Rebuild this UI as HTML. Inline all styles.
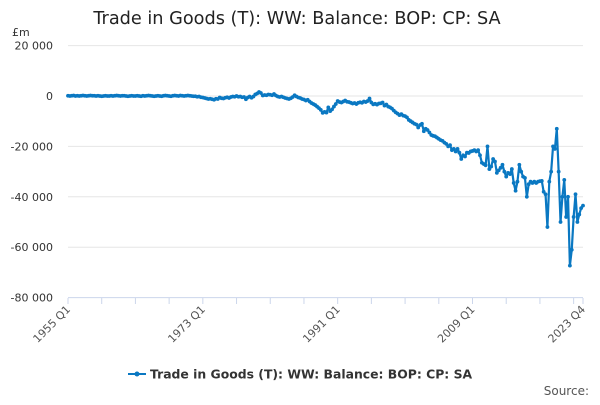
<!DOCTYPE html>
<html><head><meta charset="utf-8"><style>
body{margin:0;background:#fff;font-family:"Liberation Sans","DejaVu Sans",sans-serif}
svg text{font-family:"DejaVu Sans","Liberation Sans",sans-serif}
</style></head><body>
<svg id="chart" width="600" height="400" viewBox="0 0 600 400">
<text x="297" y="24" text-anchor="middle" font-size="17.7" fill="#222">Trade in Goods (T): WW: Balance: BOP: CP: SA</text>
<text x="12" y="36" font-size="11" fill="#333">£m</text>
<g id="grid"></g>
<g id="xaxis"></g>
<g id="series"></g>
<g>
<line x1="128" y1="374" x2="146" y2="374" stroke="#0a78c2" stroke-width="2"/>
<circle cx="137" cy="374" r="2.5" fill="#0a78c2"/>
<text x="150" y="378.5" font-size="12.4" font-weight="bold" fill="#333">Trade in Goods (T): WW: Balance: BOP: CP: SA</text>
</g>
<text x="589" y="395" text-anchor="end" font-size="12" fill="#555">Source:</text>
</svg>
<script>
const yTicks=[20000,0,-20000,-40000,-60000,-80000];
const yTickLabels=["20 000","0","-20 000","-40 000","-60 000","-80 000"];
const xTickLabels=["1955 Q1","1973 Q1","1991 Q1","2009 Q1","2023 Q4"];
const xTickIndex=[0,72,144,216,275];
const values=[
100,0,100,200,0,100,0,100,200,100,0,100,200,100,100,0,
100,0,-100,0,100,0,0,100,0,100,200,100,0,100,100,0,
-100,0,100,0,0,100,0,-100,100,0,100,200,100,0,-100,0,
100,0,-100,100,200,100,0,-100,100,200,100,0,200,100,0,100,
200,100,0,-100,-100,-300,-200,-500,-600,-800,-1000,-1200,-1100,-1300,-1500,-1100,
-1200,-600,-900,-1000,-700,-500,-800,-400,-200,-300,0,-300,-200,-500,-400,-1300,
-600,-200,-700,-200,600,1000,1600,1200,200,400,300,600,500,300,800,200,
-200,-400,-200,-500,-800,-1000,-1200,-900,-400,300,-200,-600,-800,-1200,-1400,-1800,
-1500,-2200,-2800,-3200,-3600,-4200,-4800,-5500,-6700,-6300,-6600,-4500,-6000,-5300,-4200,-3200,
-2000,-2400,-2600,-2200,-1800,-2300,-2400,-2700,-3000,-2800,-3200,-2700,-2500,-2700,-2200,-2400,
-2000,-1000,-2600,-3300,-3100,-3400,-3000,-2900,-2600,-3800,-3400,-4200,-4500,-5000,-5800,-6500,
-7000,-7600,-7200,-7800,-8000,-8500,-9500,-10000,-10500,-11000,-11300,-12500,-11500,-11000,-14000,-13000,
-13500,-14500,-15500,-15800,-16000,-16500,-17000,-17500,-17800,-18500,-19000,-20000,-19500,-21500,-21000,-22000,
-21000,-22500,-25000,-23500,-24000,-22500,-22600,-22000,-21800,-21500,-22000,-21500,-23500,-26500,-27000,-27500,
-20000,-29000,-28000,-25000,-26000,-30500,-29500,-28500,-27300,-30000,-32000,-30500,-31000,-29000,-34500,-37600,
-34000,-27300,-30000,-32000,-32500,-40000,-35000,-34000,-34500,-34000,-34500,-34000,-33800,-33700,-38000,-39000,
-52000,-34000,-30000,-20000,-21000,-13000,-30000,-50000,-40000,-33300,-48000,-40000,-67300,-61000,-48000,-39000,
-50000,-47000,-44500,-43500];
const NS='http://www.w3.org/2000/svg';
const X0=68,X1=583,N=276;
function xs(i){return X0+(X1-X0)*i/(N-1);}
function ys(v){return 96-(v/20000)*50.4;}
const grid=document.getElementById('grid');
yTicks.forEach((t,k)=>{
 const l=document.createElementNS(NS,'line');
 
 
 l.setAttribute('x1',X0);l.setAttribute('x2',X1);
 l.setAttribute('y1',ys(t));l.setAttribute('y2',ys(t));
 l.setAttribute('stroke',k===yTicks.length-1?'#ccd6eb':'#e6e6e6');l.setAttribute('stroke-width',1);
 grid.appendChild(l);
 const tx=document.createElementNS(NS,'text');
 
 
 tx.setAttribute('x',53);tx.setAttribute('y',ys(t)+4);
 tx.setAttribute('text-anchor','end');tx.setAttribute('font-size','11');tx.setAttribute('fill','#333');
 tx.textContent=yTickLabels[k];grid.appendChild(tx);
});
const xa=document.getElementById('xaxis');
for(let q=0;q<N;q+=18){
 const l=document.createElementNS(NS,'line');
 
 
 l.setAttribute('x1',xs(q));l.setAttribute('x2',xs(q));l.setAttribute('y1',298);l.setAttribute('y2',304);
 l.setAttribute('stroke','#ccd6eb');xa.appendChild(l);
}
{const l=document.createElementNS(NS,'line');
 
 
 l.setAttribute('x1',xs(N-1));l.setAttribute('x2',xs(N-1));l.setAttribute('y1',298);l.setAttribute('y2',304);
 l.setAttribute('stroke','#ccd6eb');xa.appendChild(l);}
xTickLabels.forEach((s,k)=>{
 const x=xs(xTickIndex[k]);
 const t=document.createElementNS(NS,'text');
 
 
 t.setAttribute('x',x+3);t.setAttribute('y',310);t.setAttribute('text-anchor','end');
 t.setAttribute('font-size','11');t.setAttribute('fill','#555');
 t.setAttribute('transform','rotate(-45 '+(x+3)+' 310)');
 t.textContent=s;xa.appendChild(t);
});
const sg=document.getElementById('series');
const p=document.createElementNS(NS,'path');


p.setAttribute('d',values.map((v,i)=>(i?'L':'M')+xs(i).toFixed(2)+' '+ys(v).toFixed(2)).join(''));
p.setAttribute('fill','none');p.setAttribute('stroke','#0a78c2');p.setAttribute('stroke-width','2.2');
p.setAttribute('stroke-linejoin','round');
sg.appendChild(p);
values.forEach((v,i)=>{
 const c=document.createElementNS(NS,'circle');
 
 
 c.setAttribute('cx',xs(i).toFixed(2));c.setAttribute('cy',ys(v).toFixed(2));
 c.setAttribute('r','1.9');c.setAttribute('fill','#0a78c2');
 sg.appendChild(c);
});
</script>
</body></html>
